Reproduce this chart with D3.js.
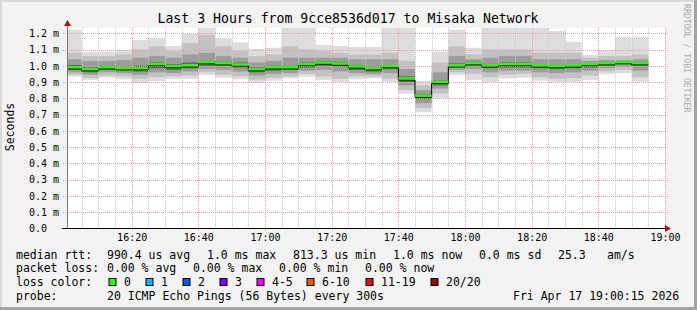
<!DOCTYPE html>
<html>
<head>
<meta charset="utf-8">
<script src="https://cdn.jsdelivr.net/npm/d3@7"></script>
<style>
body { margin: 0; background: #fff; }
svg text { font-family: "DejaVu Sans Mono", monospace; fill: #000; white-space: pre; }
</style>
</head>
<body>
<svg id="chart" width="697" height="310"></svg>
<script>
// 5 minute steps starting 16:00, one entry per step (35 steps, last slot empty)
var startTime = new Date(2026, 3, 17, 16, 0, 0);
var endTime = new Date(2026, 3, 17, 19, 0, 0);
var stepMinutes = 5;

// median rtt in ms
var medianRtt = [0.988, 0.976, 0.988, 0.982, 0.982, 1.007, 0.995, 1.000, 1.019, 1.013,
                 1.005, 0.976, 0.988, 0.988, 1.007, 1.017, 1.011, 0.993, 0.982, 0.995,
                 0.919, 0.813, 0.898, 1.000, 1.013, 1.000, 1.007, 1.007, 1.000, 0.995,
                 1.000, 1.007, 1.013, 1.019, 1.013];
// smoke: outer (min/max) and inner ping pairs, ms
var rttMax = [1.222, 1.083, 1.087, 1.099, 1.159, 1.173, 1.122, 1.196, 1.300, 1.171,
              1.144, 1.103, 1.111, 1.300, 1.300, 1.128, 1.122, 1.116, 1.116, 1.300,
              1.300, 0.906, 1.087, 1.222, 1.111, 1.300, 1.300, 1.300, 1.300, 1.214,
              1.148, 1.066, 1.095, 1.177, 1.177];
var rttHi2 = [1.08, 1.06, 1.06, 1.07, 1.10, 1.12, 1.09, 1.14, 1.19, 1.12,
              1.09, 1.06, 1.07, 1.12, 1.10, 1.09, 1.08, 1.07, 1.07, 1.08,
              1.03, 0.88, 1.02, 1.12, 1.07, 1.10, 1.10, 1.10, 1.08, 1.08,
              1.08, 1.05, 1.06, 1.06, 1.07];
var rttHi3 = [1.04, 1.03, 1.03, 1.035, 1.05, 1.06, 1.05, 1.07, 1.08, 1.06,
              1.05, 1.02, 1.03, 1.05, 1.05, 1.05, 1.05, 1.04, 1.04, 1.04,
              0.98, 0.85, 0.96, 1.06, 1.04, 1.05, 1.06, 1.06, 1.04, 1.04,
              1.04, 1.03, 1.035, 1.035, 1.04];
var rttHi4 = [1.005, 0.99, 1.0, 0.995, 1.0, 1.02, 1.01, 1.02, 1.03, 1.025,
              1.02, 0.99, 1.0, 1.0, 1.02, 1.03, 1.025, 1.005, 0.995, 1.005,
              0.935, 0.825, 0.91, 1.015, 1.025, 1.012, 1.02, 1.02, 1.01, 1.005,
              1.01, 1.015, 1.02, 1.025, 1.02];
var rttLo4 = [0.975, 0.96, 0.975, 0.97, 0.965, 0.985, 0.975, 0.985, 1.0, 1.0,
              0.99, 0.96, 0.97, 0.975, 0.99, 1.0, 0.995, 0.975, 0.965, 0.98,
              0.90, 0.795, 0.88, 0.99, 1.0, 0.985, 0.99, 0.99, 0.985, 0.98,
              0.985, 0.99, 1.0, 1.01, 1.0];
var rttLo3 = [0.96, 0.945, 0.96, 0.955, 0.945, 0.96, 0.955, 0.965, 0.98, 0.975,
              0.965, 0.94, 0.95, 0.955, 0.97, 0.975, 0.965, 0.955, 0.95, 0.955,
              0.88, 0.77, 0.86, 0.975, 0.98, 0.96, 0.97, 0.97, 0.96, 0.955,
              0.96, 0.97, 0.985, 0.995, 0.97];
var rttLo2 = [0.945, 0.925, 0.94, 0.935, 0.92, 0.93, 0.935, 0.94, 0.96, 0.945,
              0.935, 0.915, 0.925, 0.935, 0.95, 0.935, 0.92, 0.935, 0.935, 0.92,
              0.85, 0.74, 0.83, 0.96, 0.95, 0.93, 0.945, 0.95, 0.93, 0.92,
              0.925, 0.94, 0.965, 0.975, 0.93];
var rttMin = [0.933, 0.913, 0.927, 0.917, 0.896, 0.906, 0.919, 0.919, 0.943, 0.927,
              0.917, 0.896, 0.908, 0.923, 0.933, 0.913, 0.898, 0.917, 0.923, 0.902,
              0.828, 0.714, 0.800, 0.943, 0.913, 0.898, 0.923, 0.927, 0.908, 0.898,
              0.898, 0.913, 0.948, 0.954, 0.902];
var lossCount = [0, 0, 0, 0, 0, 0, 0, 0, 0, 0, 0, 0, 0, 0, 0, 0, 0, 0,
                 0, 0, 0, 0, 0, 0, 0, 0, 0, 0, 0, 0, 0, 0, 0, 0, 0];

var yTicks = [0, 0.1, 0.2, 0.3, 0.4, 0.5, 0.6, 0.7, 0.8, 0.9, 1.0, 1.1, 1.2];
var lossLabels = ['0', '1', '2', '3', '4-5', '6-10', '11-19', '20/20'];
var lossColors = ['#26ff00', '#00b8ff', '#0059ff', '#7e00ff', '#ff00ff', '#ff5500', '#ff0000', '#a10000'];
var lossMax = [0, 1, 2, 3, 5, 10, 19, 20];
var smokeColors = ['#dddddd', '#c2c2c2', '#9c9c9c', '#636363'];

var svg = d3.select('#chart');

// frame
svg.append('rect').attr('width', 697).attr('height', 310).attr('fill', '#f3f3f3');
svg.append('rect').attr('x', 0).attr('y', 0).attr('width', 697).attr('height', 2).attr('fill', '#d9d9d9');
svg.append('rect').attr('x', 0).attr('y', 0).attr('width', 2).attr('height', 310).attr('fill', '#d9d9d9');
svg.append('rect').attr('x', 694).attr('y', 0).attr('width', 3).attr('height', 310).attr('fill', '#a3a3a3');
svg.append('rect').attr('x', 0).attr('y', 307).attr('width', 697).attr('height', 3).attr('fill', '#a3a3a3');

var x = d3.scaleTime().domain([startTime, endTime]).range([65, 665]);
var y = d3.scaleLinear().domain([0, 1.2]).range([228.3, 33.3]);

// plot canvas
svg.append('rect').attr('x', 67).attr('y', 28).attr('width', 598).attr('height', 200).attr('fill', '#fff');

svg.append('clipPath').attr('id', 'plotclip')
  .append('rect').attr('x', 67).attr('y', 28).attr('width', 598).attr('height', 200);

var steps = medianRtt.map(function(d, i){
  var t0 = d3.timeMinute.offset(startTime, i * stepMinutes);
  return {
    t0: t0,
    t1: d3.timeMinute.offset(t0, stepMinutes),
    med: d,
    bands: [[rttMin[i], rttMax[i]], [rttLo2[i], rttHi2[i]], [rttLo3[i], rttHi3[i]], [rttLo4[i], rttHi4[i]]],
    loss: lossCount[i]
  };
});

var plot = svg.append('g').attr('clip-path', 'url(#plotclip)');

smokeColors.forEach(function(col, b){
  plot.append('g').selectAll('rect')
    .data(steps)
    .enter()
    .append('rect')
    .attr('x', function(d){ return x(d.t0); })
    .attr('width', function(d){ return x(d.t1) - x(d.t0); })
    .attr('y', function(d){ return y(d.bands[b][1]); })
    .attr('height', function(d){ return y(d.bands[b][0]) - y(d.bands[b][1]); })
    .attr('fill', col);
});

// grid
var grid = svg.append('g').attr('stroke-dasharray', '1,1').attr('shape-rendering', 'crispEdges');
var minorTimes = d3.timeMinute.every(5).range(d3.timeMinute.offset(startTime, 5), d3.timeMinute.offset(endTime, 1))
  .filter(function(t){ return t.getMinutes() % 20 !== 0; });
var majorTimes = d3.timeMinute.every(20).range(d3.timeMinute.offset(startTime, 20), d3.timeMinute.offset(endTime, 1));

grid.selectAll('.minor').data(minorTimes).enter().append('line')
  .attr('x1', function(d){ return Math.round(x(d)) + 0.5; })
  .attr('x2', function(d){ return Math.round(x(d)) + 0.5; })
  .attr('y1', 28).attr('y2', 230)
  .attr('stroke', '#c8c8c8');
grid.selectAll('.major').data(majorTimes).enter().append('line')
  .attr('x1', function(d){ return Math.round(x(d)) + 0.5; })
  .attr('x2', function(d){ return Math.round(x(d)) + 0.5; })
  .attr('y1', 28).attr('y2', 232)
  .attr('stroke', '#f09a9a');
grid.selectAll('.hline').data(yTicks.slice(1)).enter().append('line')
  .attr('x1', 63).attr('x2', 668)
  .attr('y1', function(d){ return Math.round(y(d)) + 0.5; })
  .attr('y2', function(d){ return Math.round(y(d)) + 0.5; })
  .attr('stroke', '#f09a9a');

// median: thin black steps then coloured segments, above the grid
var medianLayer = svg.append('g').attr('clip-path', 'url(#plotclip)');
var stepLine = d3.line()
  .x(function(d){ return d[0]; })
  .y(function(d){ return d[1]; })
  .curve(d3.curveStepAfter);
var stepPts = steps.map(function(d){ return [x(d.t0), y(d.med) + 1]; });
stepPts.push([x(steps[steps.length - 1].t1), y(steps[steps.length - 1].med) + 1]);
medianLayer.append('path')
  .attr('d', stepLine(stepPts))
  .attr('fill', 'none')
  .attr('stroke', '#000')
  .attr('stroke-width', 1);

medianLayer.append('g').selectAll('line')
  .data(steps)
  .enter()
  .append('line')
  .attr('x1', function(d){ return x(d.t0); })
  .attr('x2', function(d){ return x(d.t1); })
  .attr('y1', function(d){ return y(d.med) - 0.5; })
  .attr('y2', function(d){ return y(d.med) - 0.5; })
  .attr('stroke', function(d){
    var k = lossMax.findIndex(function(m){ return d.loss <= m; });
    return lossColors[k];
  })
  .attr('stroke-width', 2.5);

// axes
var xAxis = d3.axisBottom(x).tickValues(majorTimes).tickFormat(d3.timeFormat('%H:%M')).tickSize(0).tickPadding(6);
var gx = svg.append('g').attr('transform', 'translate(0,228)').call(xAxis);
gx.select('.domain').remove();
gx.selectAll('text').attr('font-family', 'DejaVu Sans Mono').attr('font-size', 10).attr('fill', '#000');

var yAxis = d3.axisLeft(y).tickValues(yTicks)
  .tickFormat(function(d){ return d === 0 ? '0.0' : d3.format('.1f')(d) + ' m'; })
  .tickSize(0);
var gy = svg.append('g').attr('transform', 'translate(67,0)').call(yAxis);
gy.select('.domain').remove();
gy.selectAll('text').attr('x', -38).attr('text-anchor', 'start')
  .attr('font-family', 'DejaVu Sans Mono').attr('font-size', 10).attr('fill', '#000');

svg.append('line').attr('x1', 67.5).attr('x2', 67.5).attr('y1', 24).attr('y2', 228)
  .attr('stroke', '#777').attr('stroke-width', 1);
svg.append('line').attr('x1', 62).attr('x2', 667).attr('y1', 228.5).attr('y2', 228.5)
  .attr('stroke', '#000').attr('stroke-width', 1);
svg.append('path').attr('d', 'M67.5,20 L71,26 L64,26 Z').attr('fill', '#a01818');
svg.append('path').attr('d', 'M671,228.5 L665,225 L665,232 Z').attr('fill', '#a01818');

// titles
svg.append('text').attr('x', 348).attr('y', 23).attr('text-anchor', 'middle')
  .attr('font-size', 13.2).text('Last 3 Hours from 9cce8536d017 to Misaka Network');
svg.append('text').attr('transform', 'translate(14,127) rotate(-90)').attr('text-anchor', 'middle')
  .attr('font-size', 11.5).text('Seconds');
svg.append('text').attr('transform', 'translate(684,4) rotate(90)').attr('text-anchor', 'start')
  .attr('font-size', 8.2).style('fill', '#acacac').text('RRDTOOL / TOBI OETIKER');

// legend
var legendRows = [
  [[16, 'median rtt:'], [107, '990.4 us avg'], [207, '1.0 ms max'], [293, '813.3 us min'],
   [393, '1.0 ms now'], [479, '0.0 ms sd'], [558, '25.3'], [607, 'am/s']],
  [[16, 'packet loss:'], [107, '0.00 % avg'], [193, '0.00 % max'], [279, '0.00 % min'], [365, '0.00 % now']],
  [[16, 'loss color:']],
  [[16, 'probe:'], [107, '20 ICMP Echo Pings (56 Bytes) every 300s'], [513, 'Fri Apr 17 19:00:15 2026']]
];
var rowY = [258.5, 272.3, 286.2, 299.8];
legendRows.forEach(function(row, r){
  svg.append('g').selectAll('text')
    .data(row)
    .enter()
    .append('text')
    .attr('x', function(d){ return d[0]; })
    .attr('y', rowY[r])
    .attr('font-size', 11.5)
    .text(function(d){ return d[1]; });
});

var boxX = [109, 146, 183, 220, 257, 307, 366, 431];
var lossItems = svg.append('g').selectAll('g')
  .data(lossLabels)
  .enter()
  .append('g')
  .attr('transform', function(d, i){ return 'translate(' + boxX[i] + ',278.5)'; });
lossItems.append('rect')
  .attr('width', 7).attr('height', 7)
  .attr('fill', function(d, i){ return lossColors[i]; })
  .attr('stroke', '#000').attr('stroke-width', 1);
lossItems.append('text')
  .attr('x', 15).attr('y', 7.7)
  .attr('font-size', 11.5)
  .text(function(d){ return d; });
</script>
</body>
</html>
